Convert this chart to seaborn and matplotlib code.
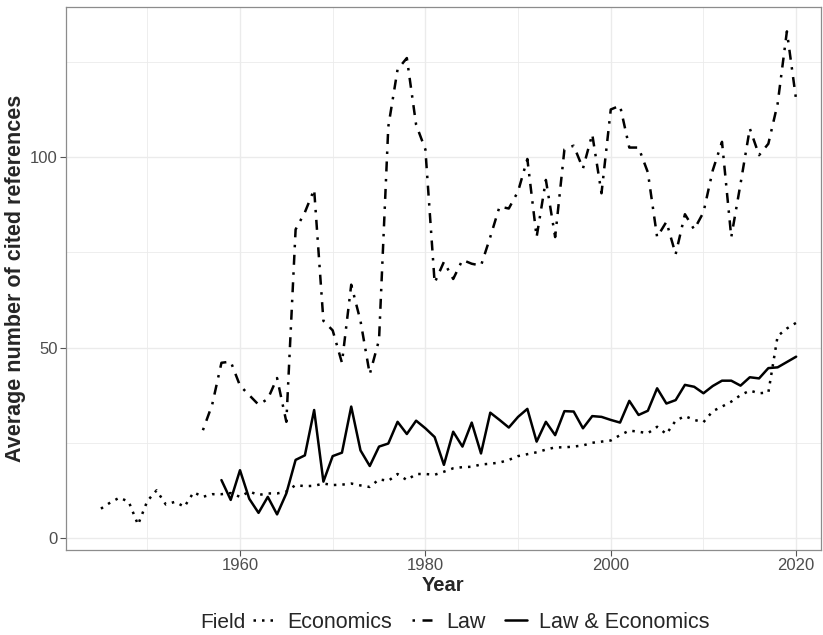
import matplotlib.pyplot as plt
import matplotlib.ticker as mticker
from matplotlib.lines import Line2D
import pandas as pd
import seaborn as sns

# values
econ_years = list(range(1945, 2021))
econ_values = [
    7.7, 9.3, 10.6, 9.5, 3.5, 9.7, 12.5, 8.8, 9.5, 8.2,
    12.0, 10.8, 11.5, 11.5, 11.8, 10.8, 12.2, 11.3, 11.7, 11.7,
    12.2, 13.9, 13.6, 13.7, 14.3, 13.9, 14.0, 14.3, 13.8, 13.4,
    15.4, 15.0, 16.8, 15.2, 16.8, 16.8, 16.6, 17.4, 18.3, 18.6,
    18.7, 19.3, 19.5, 19.8, 20.5, 21.5, 22.0, 22.5, 23.2, 23.8,
    23.8, 24.0, 24.3, 25.0, 25.3, 25.6, 27.0, 28.2, 27.9, 27.5,
    29.2, 27.3, 30.8, 32.0, 31.0, 30.4, 33.3, 34.5, 35.8, 37.5,
    38.7, 38.0, 38.2, 53.0, 55.0, 56.5,
]

law_years = list(range(1956, 2021))
law_values = [
    28.3, 35.0, 46.0, 46.3, 40.0, 37.5, 35.0, 36.5, 42.0, 30.5,
    81.0, 85.5, 91.5, 57.0, 54.5, 46.0, 66.5, 57.0, 43.0, 52.0,
    108.0, 123.0, 126.0, 108.5, 102.0, 67.0, 72.5, 68.0, 73.0, 72.0,
    71.5, 79.0, 87.0, 86.5, 91.0, 99.5, 79.0, 94.0, 79.0, 102.0,
    103.0, 97.0, 106.0, 90.5, 112.5, 113.5, 102.5, 102.5, 96.0, 79.0,
    83.0, 74.5, 85.0, 81.0, 85.5, 96.5, 104.0, 79.0, 93.0, 107.5,
    100.5, 103.5, 114.0, 133.0, 115.0,
]

le_years = list(range(1958, 2021))
le_values = [
    15.2, 10.0, 17.8, 10.3, 6.6, 10.8, 6.2, 11.7, 20.5, 21.7,
    33.6, 14.8, 21.5, 22.4, 34.5, 23.0, 18.9, 24.0, 24.8, 30.5,
    27.3, 30.8, 28.8, 26.5, 19.2, 27.9, 24.0, 30.3, 22.2, 32.9,
    31.0, 29.0, 31.8, 33.9, 25.3, 30.5, 27.0, 33.3, 33.2, 28.8,
    32.0, 31.8, 31.0, 30.3, 36.0, 32.3, 33.4, 39.3, 35.3, 36.2,
    40.2, 39.7, 38.0, 39.9, 41.3, 41.3, 40.0, 42.2, 41.9, 44.6,
    44.8, 46.2, 47.6,
]

fields = ["Economics", "Law", "Law & Economics"]
line_dashes = {"Economics": (1, 2.4), "Law": (1, 3, 4, 3), "Law & Economics": ""}

df = pd.concat([
    pd.DataFrame({"Year": econ_years, "refs": econ_values, "Field": "Economics"}),
    pd.DataFrame({"Year": law_years, "refs": law_values, "Field": "Law"}),
    pd.DataFrame({"Year": le_years, "refs": le_values, "Field": "Law & Economics"}),
])

sns.set_theme(style="white")
plt.rcParams["font.family"] = ["Liberation Sans", "DejaVu Sans"]

fig = plt.figure(figsize=(8.23, 6.35), dpi=100)
ax = fig.add_axes([66 / 823, 85 / 635, 755 / 823, 543 / 635])

sns.lineplot(data=df, x="Year", y="refs", hue="Field", style="Field",
             hue_order=fields, style_order=fields,
             palette=["black"] * 3, dashes=line_dashes,
             linewidth=1.8, legend=False, ax=ax)

ax.set_xlim(1941.23, 2022.68)
ax.set_ylim(-3.15, 139.4)
ax.xaxis.set_major_locator(mticker.MultipleLocator(20))
ax.xaxis.set_minor_locator(mticker.MultipleLocator(10))
ax.yaxis.set_major_locator(mticker.MultipleLocator(50))
ax.yaxis.set_minor_locator(mticker.MultipleLocator(25))
ax.grid(which="major", color="#EBEBEB", linewidth=1.0)
ax.grid(which="minor", color="#EBEBEB", linewidth=0.6)
ax.set_axisbelow(True)
for s in ax.spines.values():
    s.set_color("#8C8C8C")
    s.set_linewidth(0.9)
ax.tick_params(which="major", length=4, width=0.8, color="#555555",
               labelsize=12, labelcolor="#4D4D4D", pad=2,
               bottom=True, left=True)
ax.tick_params(which="minor", length=0)

ax.set_xlabel("Year", fontsize=14.5, fontweight="bold", labelpad=2)
ax.set_ylabel("Average number of cited references", fontsize=15.5,
              fontweight="bold")
ax.yaxis.set_label_coords(-0.053, 0.5)

# legend at the bottom, title on the left like ggplot
fig.text(200 / 823, 13 / 635, "Field", fontsize=15, va="center", ha="left")
handles = [Line2D([], [], color="black", linewidth=1.8, dashes=line_dashes[f])
           for f in fields]
fig.legend(handles, fields, loc="center left", bbox_to_anchor=(253 / 823, 13 / 635),
           ncol=3, frameon=False, fontsize=15.5, handlelength=1.05,
           handletextpad=0.55, columnspacing=0.9, borderpad=0, borderaxespad=0)

fig.savefig("out.png", dpi=100)
